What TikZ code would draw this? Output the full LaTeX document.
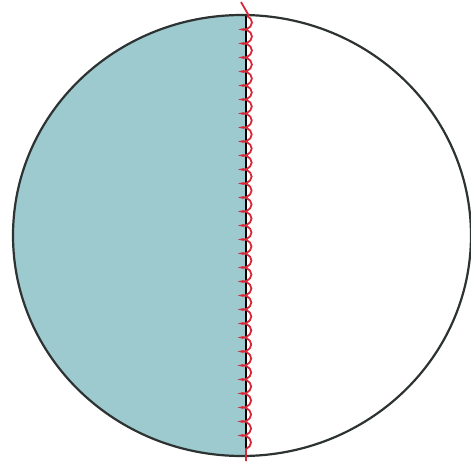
\documentclass[tikz,border=0pt]{standalone}
\usetikzlibrary{decorations.pathmorphing}
\definecolor{tealfill}{RGB}{156,202,206}
\definecolor{rim}{RGB}{45,50,50}
\definecolor{coilred}{RGB}{215,40,55}
\begin{document}
\begin{tikzpicture}[x=1pt,y=-1pt]
\useasboundingbox (0,0) rectangle (471,463);
\begin{scope}
  \clip (0,0) rectangle (246,463);
  \fill[tealfill] (242,235.5) ellipse [x radius=229, y radius=220.5];
\end{scope}
\begin{scope}
  \clip (242,235.5) ellipse [x radius=229, y radius=220.5];
  \draw[black, line width=1.3pt] (246,0) -- (246,463);
\end{scope}
\draw[rim, line width=2.2pt] (242,235.5) ellipse [x radius=229, y radius=220.5];
\draw[coilred, line width=1.8pt] (241,2) -- (249,16);
\draw[coilred, line width=1.8pt, decorate,
      decoration={coil, amplitude=5pt, segment length=14pt, aspect=0.6}]
  (247,16) -- (246,461);
\end{tikzpicture}
\end{document}
